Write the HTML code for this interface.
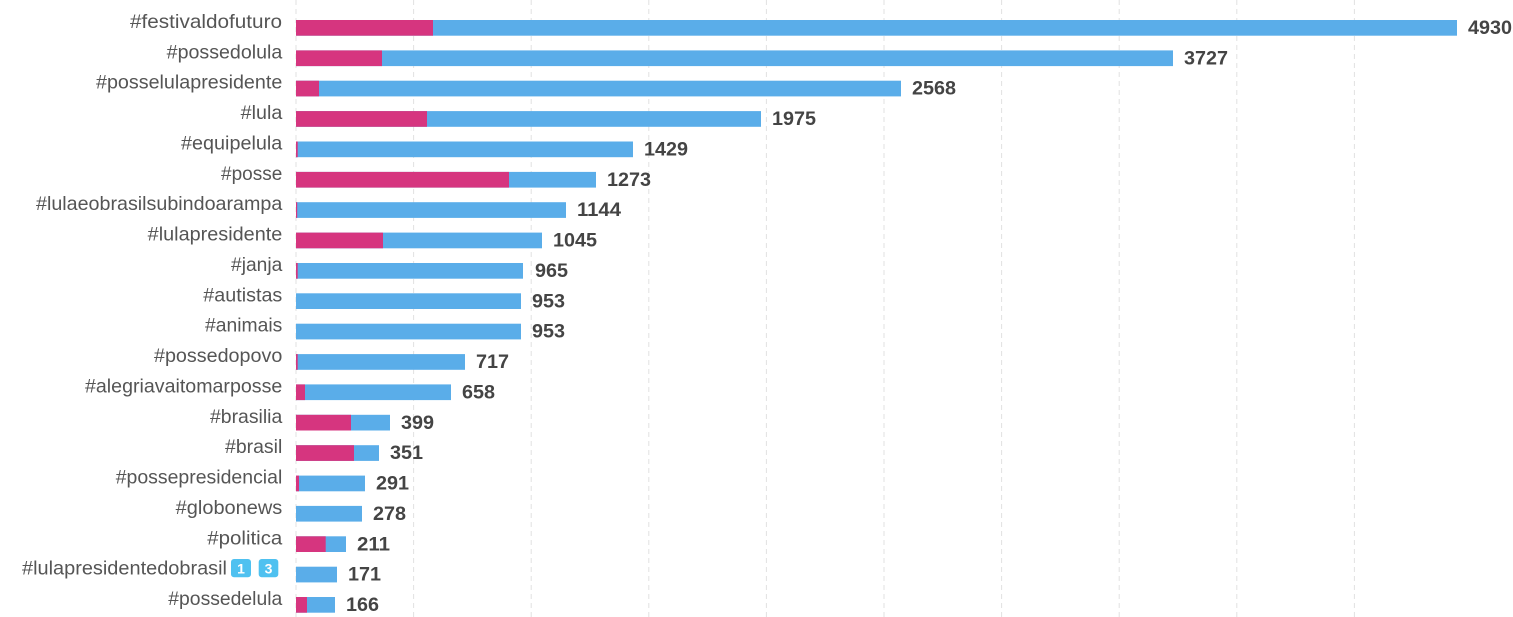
<!DOCTYPE html>
<html>
<head>
<meta charset="utf-8">
<style>
html,body{margin:0;padding:0;background:#fff;}
svg{display:block;}
.lbl{font-family:"Liberation Sans",sans-serif;font-size:19.5px;fill:#555;}
.val{font-family:"Liberation Sans",sans-serif;font-size:19px;font-weight:bold;fill:#444;}
</style>
</head>
<body>
<svg width="1513" height="617" viewBox="0 0 1513 617" xmlns="http://www.w3.org/2000/svg">
<g stroke="#e2e2e2" stroke-width="1" stroke-dasharray="5,4">
<line x1="296" y1="0" x2="296" y2="617"/>
<line x1="413.6" y1="0" x2="413.6" y2="617"/>
<line x1="531.2" y1="0" x2="531.2" y2="617"/>
<line x1="648.8" y1="0" x2="648.8" y2="617"/>
<line x1="766.4" y1="0" x2="766.4" y2="617"/>
<line x1="884" y1="0" x2="884" y2="617"/>
<line x1="1001.6" y1="0" x2="1001.6" y2="617"/>
<line x1="1119.2" y1="0" x2="1119.2" y2="617"/>
<line x1="1236.8" y1="0" x2="1236.8" y2="617"/>
<line x1="1354.4" y1="0" x2="1354.4" y2="617"/>
</g>

<!-- Row 0 -->
<rect x="296" y="20" width="1161" height="15.7" fill="#5aade9"/>
<rect x="296" y="20" width="137" height="15.7" fill="#d6357f"/>
<text class="lbl" x="130" y="28" textLength="152" lengthAdjust="spacingAndGlyphs">#festivaldofuturo</text>
<text class="val" x="1468" y="34" textLength="44" lengthAdjust="spacingAndGlyphs">4930</text>

<!-- Row 1 -->
<rect x="296" y="50.4" width="877" height="15.7" fill="#5aade9"/>
<rect x="296" y="50.4" width="86" height="15.7" fill="#d6357f"/>
<text class="lbl" x="166.7" y="58.4" textLength="115.6" lengthAdjust="spacingAndGlyphs">#possedolula</text>
<text class="val" x="1184" y="64.4" textLength="44" lengthAdjust="spacingAndGlyphs">3727</text>

<!-- Row 2 -->
<rect x="296" y="80.7" width="605" height="15.7" fill="#5aade9"/>
<rect x="296" y="80.7" width="23" height="15.7" fill="#d6357f"/>
<text class="lbl" x="96" y="88.7" textLength="186.3" lengthAdjust="spacingAndGlyphs">#posselulapresidente</text>
<text class="val" x="912" y="94.7" textLength="44" lengthAdjust="spacingAndGlyphs">2568</text>

<!-- Row 3 -->
<rect x="296" y="111.1" width="465" height="15.7" fill="#5aade9"/>
<rect x="296" y="111.1" width="131" height="15.7" fill="#d6357f"/>
<text class="lbl" x="240.7" y="119.1" textLength="41.6" lengthAdjust="spacingAndGlyphs">#lula</text>
<text class="val" x="772" y="125.1" textLength="44" lengthAdjust="spacingAndGlyphs">1975</text>

<!-- Row 4 -->
<rect x="296" y="141.5" width="337" height="15.7" fill="#5aade9"/>
<rect x="296" y="141.5" width="1.7" height="15.7" fill="#d6357f"/>
<text class="lbl" x="181" y="149.5" textLength="101.3" lengthAdjust="spacingAndGlyphs">#equipelula</text>
<text class="val" x="644" y="155.5" textLength="44" lengthAdjust="spacingAndGlyphs">1429</text>

<!-- Row 5 -->
<rect x="296" y="171.9" width="300" height="15.7" fill="#5aade9"/>
<rect x="296" y="171.9" width="213" height="15.7" fill="#d6357f"/>
<text class="lbl" x="221" y="179.9" textLength="61.3" lengthAdjust="spacingAndGlyphs">#posse</text>
<text class="val" x="607" y="185.9" textLength="44" lengthAdjust="spacingAndGlyphs">1273</text>

<!-- Row 6 -->
<rect x="296" y="202.2" width="270" height="15.7" fill="#5aade9"/>
<rect x="296" y="202.2" width="1.2" height="15.7" fill="#d6357f"/>
<text class="lbl" x="36" y="210.2" textLength="246.3" lengthAdjust="spacingAndGlyphs">#lulaeobrasilsubindoarampa</text>
<text class="val" x="577" y="216.2" textLength="44" lengthAdjust="spacingAndGlyphs">1144</text>

<!-- Row 7 -->
<rect x="296" y="232.6" width="246" height="15.7" fill="#5aade9"/>
<rect x="296" y="232.6" width="87" height="15.7" fill="#d6357f"/>
<text class="lbl" x="147.7" y="240.6" textLength="134.6" lengthAdjust="spacingAndGlyphs">#lulapresidente</text>
<text class="val" x="553" y="246.6" textLength="44" lengthAdjust="spacingAndGlyphs">1045</text>

<!-- Row 8 -->
<rect x="296" y="263" width="227" height="15.7" fill="#5aade9"/>
<rect x="296" y="263" width="1.7" height="15.7" fill="#d6357f"/>
<text class="lbl" x="231" y="271" textLength="51.3" lengthAdjust="spacingAndGlyphs">#janja</text>
<text class="val" x="535" y="277" textLength="33" lengthAdjust="spacingAndGlyphs">965</text>

<!-- Row 9 -->
<rect x="296" y="293.3" width="225" height="15.7" fill="#5aade9"/>
<text class="lbl" x="203.3" y="301.3" textLength="79" lengthAdjust="spacingAndGlyphs">#autistas</text>
<text class="val" x="532" y="307.3" textLength="33" lengthAdjust="spacingAndGlyphs">953</text>

<!-- Row 10 -->
<rect x="296" y="323.7" width="225" height="15.7" fill="#5aade9"/>
<text class="lbl" x="205" y="331.7" textLength="77.3" lengthAdjust="spacingAndGlyphs">#animais</text>
<text class="val" x="532" y="337.7" textLength="33" lengthAdjust="spacingAndGlyphs">953</text>

<!-- Row 11 -->
<rect x="296" y="354.1" width="169" height="15.7" fill="#5aade9"/>
<rect x="296" y="354.1" width="1.7" height="15.7" fill="#d6357f"/>
<text class="lbl" x="154" y="362.1" textLength="128.3" lengthAdjust="spacingAndGlyphs">#possedopovo</text>
<text class="val" x="476" y="368.1" textLength="33" lengthAdjust="spacingAndGlyphs">717</text>

<!-- Row 12 -->
<rect x="296" y="384.4" width="155" height="15.7" fill="#5aade9"/>
<rect x="296" y="384.4" width="9" height="15.7" fill="#d6357f"/>
<text class="lbl" x="85" y="392.4" textLength="197.3" lengthAdjust="spacingAndGlyphs">#alegriavaitomarposse</text>
<text class="val" x="462" y="398.4" textLength="33" lengthAdjust="spacingAndGlyphs">658</text>

<!-- Row 13 -->
<rect x="296" y="414.8" width="94" height="15.7" fill="#5aade9"/>
<rect x="296" y="414.8" width="55" height="15.7" fill="#d6357f"/>
<text class="lbl" x="210" y="422.8" textLength="72.3" lengthAdjust="spacingAndGlyphs">#brasilia</text>
<text class="val" x="401" y="428.8" textLength="33" lengthAdjust="spacingAndGlyphs">399</text>

<!-- Row 14 -->
<rect x="296" y="445.2" width="83" height="15.7" fill="#5aade9"/>
<rect x="296" y="445.2" width="58" height="15.7" fill="#d6357f"/>
<text class="lbl" x="225" y="453.2" textLength="57.3" lengthAdjust="spacingAndGlyphs">#brasil</text>
<text class="val" x="390" y="459.2" textLength="33" lengthAdjust="spacingAndGlyphs">351</text>

<!-- Row 15 -->
<rect x="296" y="475.6" width="69" height="15.7" fill="#5aade9"/>
<rect x="296" y="475.6" width="3" height="15.7" fill="#d6357f"/>
<text class="lbl" x="115.7" y="483.6" textLength="166.6" lengthAdjust="spacingAndGlyphs">#possepresidencial</text>
<text class="val" x="376" y="489.6" textLength="33" lengthAdjust="spacingAndGlyphs">291</text>

<!-- Row 16 -->
<rect x="296" y="505.9" width="66" height="15.7" fill="#5aade9"/>
<text class="lbl" x="175.7" y="513.9" textLength="106.6" lengthAdjust="spacingAndGlyphs">#globonews</text>
<text class="val" x="373" y="519.9" textLength="33" lengthAdjust="spacingAndGlyphs">278</text>

<!-- Row 17 -->
<rect x="296" y="536.3" width="50" height="15.7" fill="#5aade9"/>
<rect x="296" y="536.3" width="29.7" height="15.7" fill="#d6357f"/>
<text class="lbl" x="207.3" y="544.3" textLength="75" lengthAdjust="spacingAndGlyphs">#politica</text>
<text class="val" x="357" y="550.3" textLength="33" lengthAdjust="spacingAndGlyphs">211</text>

<!-- Row 18 -->
<rect x="296" y="566.7" width="41" height="15.7" fill="#5aade9"/>
<text class="lbl" x="22" y="574.7" textLength="205" lengthAdjust="spacingAndGlyphs">#lulapresidentedobrasil</text>
<rect x="231" y="559" width="20" height="18.3" rx="3" fill="#4fc1f0"/>
<text x="241" y="573.5" text-anchor="middle" font-family="Liberation Sans, sans-serif" font-size="14" font-weight="bold" fill="#fff">1</text>
<rect x="258.7" y="559" width="19.6" height="18.3" rx="3" fill="#4fc1f0"/>
<text x="268.5" y="573.5" text-anchor="middle" font-family="Liberation Sans, sans-serif" font-size="14" font-weight="bold" fill="#fff">3</text>
<text class="val" x="348" y="580.7" textLength="33" lengthAdjust="spacingAndGlyphs">171</text>

<!-- Row 19 -->
<rect x="296" y="597" width="39" height="15.7" fill="#5aade9"/>
<rect x="296" y="597" width="11" height="15.7" fill="#d6357f"/>
<text class="lbl" x="168.3" y="605" textLength="114" lengthAdjust="spacingAndGlyphs">#possedelula</text>
<text class="val" x="346" y="611" textLength="33" lengthAdjust="spacingAndGlyphs">166</text>
</svg>
</body>
</html>
